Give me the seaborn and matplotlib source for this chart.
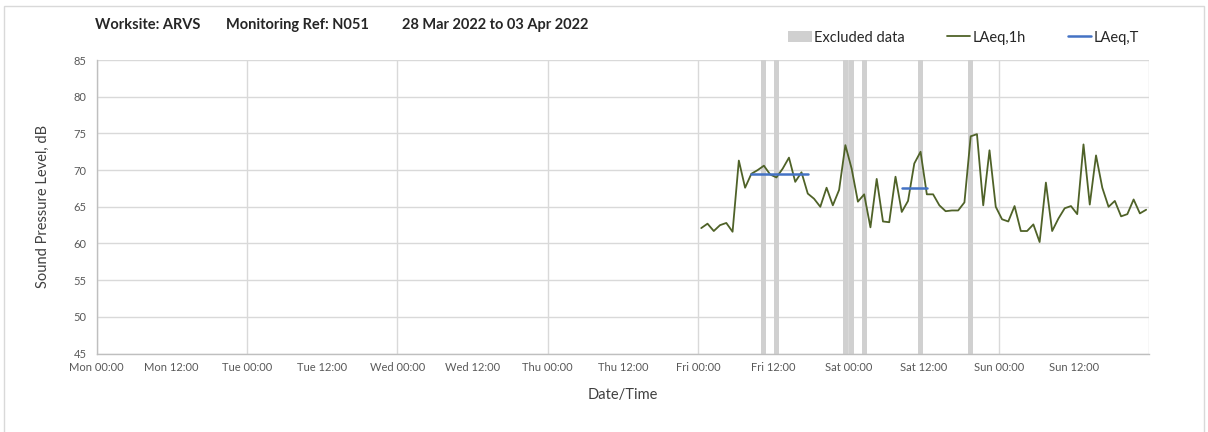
import pandas as pd
import matplotlib
matplotlib.use("Agg")
import matplotlib.pyplot as plt
import matplotlib.dates as mdates
from matplotlib.patches import Patch, Rectangle
from matplotlib.lines import Line2D
import seaborn as sns

# dados: LAeq horario (sexta 00:30 ate domingo 23:30)
inicio_1h = "2022-04-01 00:30"
laeq_1h = [62.1, 62.7, 61.7, 62.5, 62.8, 61.6, 71.3, 67.6, 69.5, 70.0,
           70.6, 69.4, 69.0, 70.2, 71.7, 68.4, 69.7, 66.8, 66.1, 65.0,
           67.6, 65.2, 67.3, 73.4, 70.2, 65.7, 66.7, 62.2, 68.8, 63.0,
           62.9, 69.1, 64.3, 65.8, 70.9, 72.5, 66.7, 66.7, 65.2, 64.4,
           64.5, 64.5, 65.6, 74.6, 74.9, 65.2, 72.7, 65.0, 63.3, 63.0,
           65.1, 61.7, 61.7, 62.6, 60.2, 68.3, 61.7, 63.4, 64.8, 65.1,
           64.0, 73.5, 65.3, 72.0, 67.6, 65.0, 65.8, 63.7, 64.0, 66.0,
           64.1, 64.6]

horas_excluidas = ["2022-04-01 10:30", "2022-04-01 12:30", "2022-04-01 23:30",
                   "2022-04-02 00:30", "2022-04-02 02:30", "2022-04-02 11:30",
                   "2022-04-02 19:30"]

laeq_t_inicio = ["2022-04-01 08:30", "2022-04-02 08:30"]
laeq_t_fim = ["2022-04-01 17:30", "2022-04-02 12:30"]
laeq_t = [69.5, 67.5]

# ticks do eixo x (a cada 12 h, sem o ultimo)
ticks_x = pd.date_range("2022-03-28 00:00", "2022-04-03 12:00", freq="12h")

tempos = pd.date_range(inicio_1h, periods=len(laeq_1h), freq="h")
df_1h = pd.DataFrame({"Date": tempos, "LAeq": laeq_1h})

df_t = pd.DataFrame({
    "Date": pd.to_datetime(laeq_t_inicio + laeq_t_fim),
    "LAeq": laeq_t + laeq_t,
    "periodo": [0, 1, 0, 1],
})

sns.set_style("white")
plt.rcParams["font.family"] = ["Lato", "DejaVu Sans"]

cinza_txt = "#595959"
cinza_grid = "#D9D9D9"

fig = plt.figure(figsize=(12.08, 4.32), dpi=100)
ax = fig.add_axes([0.0799, 0.1815, 0.8715, 0.6796])

# dados excluidos
ax.bar(pd.to_datetime(horas_excluidas), 40, bottom=45, width=0.82 / 24,
       color="#D0D0D0", linewidth=0, zorder=1)

sns.lineplot(data=df_1h, x="Date", y="LAeq", color="#4F6228", lw=1.3,
             ax=ax, zorder=3)
sns.lineplot(data=df_t, x="Date", y="LAeq", units="periodo", estimator=None,
             color="#4472C4", lw=1.8, ax=ax, zorder=4)

ax.set_xlim(pd.Timestamp("2022-03-28"), pd.Timestamp("2022-04-04"))
ax.set_ylim(45, 85)
ax.set_yticks(range(45, 86, 5))

ax.set_xticks(ticks_x)
ax.xaxis.set_major_formatter(mdates.DateFormatter("%a %H:%M"))
ax.xaxis.set_minor_locator(mdates.DayLocator())
ax.xaxis.remove_overlapping_locs = False

ax.grid(axis="y", color=cinza_grid, lw=1, zorder=0)
ax.grid(axis="x", which="minor", color=cinza_grid, lw=1, zorder=0)
ax.set_axisbelow(True)

for lado in ["top", "right"]:
    ax.spines[lado].set_visible(False)
for lado in ["left", "bottom"]:
    ax.spines[lado].set_color("#BFBFBF")
    ax.spines[lado].set_linewidth(1)

ax.tick_params(axis="x", which="major", length=0, labelsize=8,
               labelcolor=cinza_txt, pad=6)
ax.tick_params(axis="x", which="minor", length=0)
ax.tick_params(axis="y", length=4, color="#BFBFBF", labelsize=8,
               labelcolor=cinza_txt, pad=3)

ax.set_xlabel("Date/Time", fontsize=10.5, color="#404040")
ax.set_ylabel("Sound Pressure Level, dB", fontsize=10.5, color="#404040")
ax.xaxis.set_label_coords(0.5, -0.118)
ax.yaxis.set_label_coords(-0.044, 0.5)

# titulo
fig.text(95 / 1208, 0.942, "Worksite: ARVS", fontsize=10.5,
         fontweight="bold", va="center", color="#262626")
fig.text(226 / 1208, 0.942, "Monitoring Ref: N051", fontsize=10.5,
         fontweight="bold", va="center", color="#262626")
fig.text(402 / 1208, 0.942, "28 Mar 2022 to 03 Apr 2022", fontsize=10.5,
         fontweight="bold", va="center", color="#262626")

# legenda
handles = [Patch(facecolor="#D0D0D0", edgecolor="none"),
           Line2D([], [], color="#4F6228", lw=1.3),
           Line2D([], [], color="#4472C4", lw=1.8)]
fig.legend(handles, ["Excluded data", "LAeq,1h", "LAeq,T"], ncol=3,
           loc="center left", bbox_to_anchor=(781 / 1208, 0.913),
           frameon=False, fontsize=10.5, handlelength=1.6,
           handletextpad=0.15, columnspacing=2.9, borderpad=0,
           labelcolor="#262626")

# borda do grafico
fig.patches.append(Rectangle((0.003, -0.01), 0.994, 0.996,
                             transform=fig.transFigure, fill=False,
                             edgecolor=cinza_grid, lw=1))

plt.savefig("out.png", dpi=100)
